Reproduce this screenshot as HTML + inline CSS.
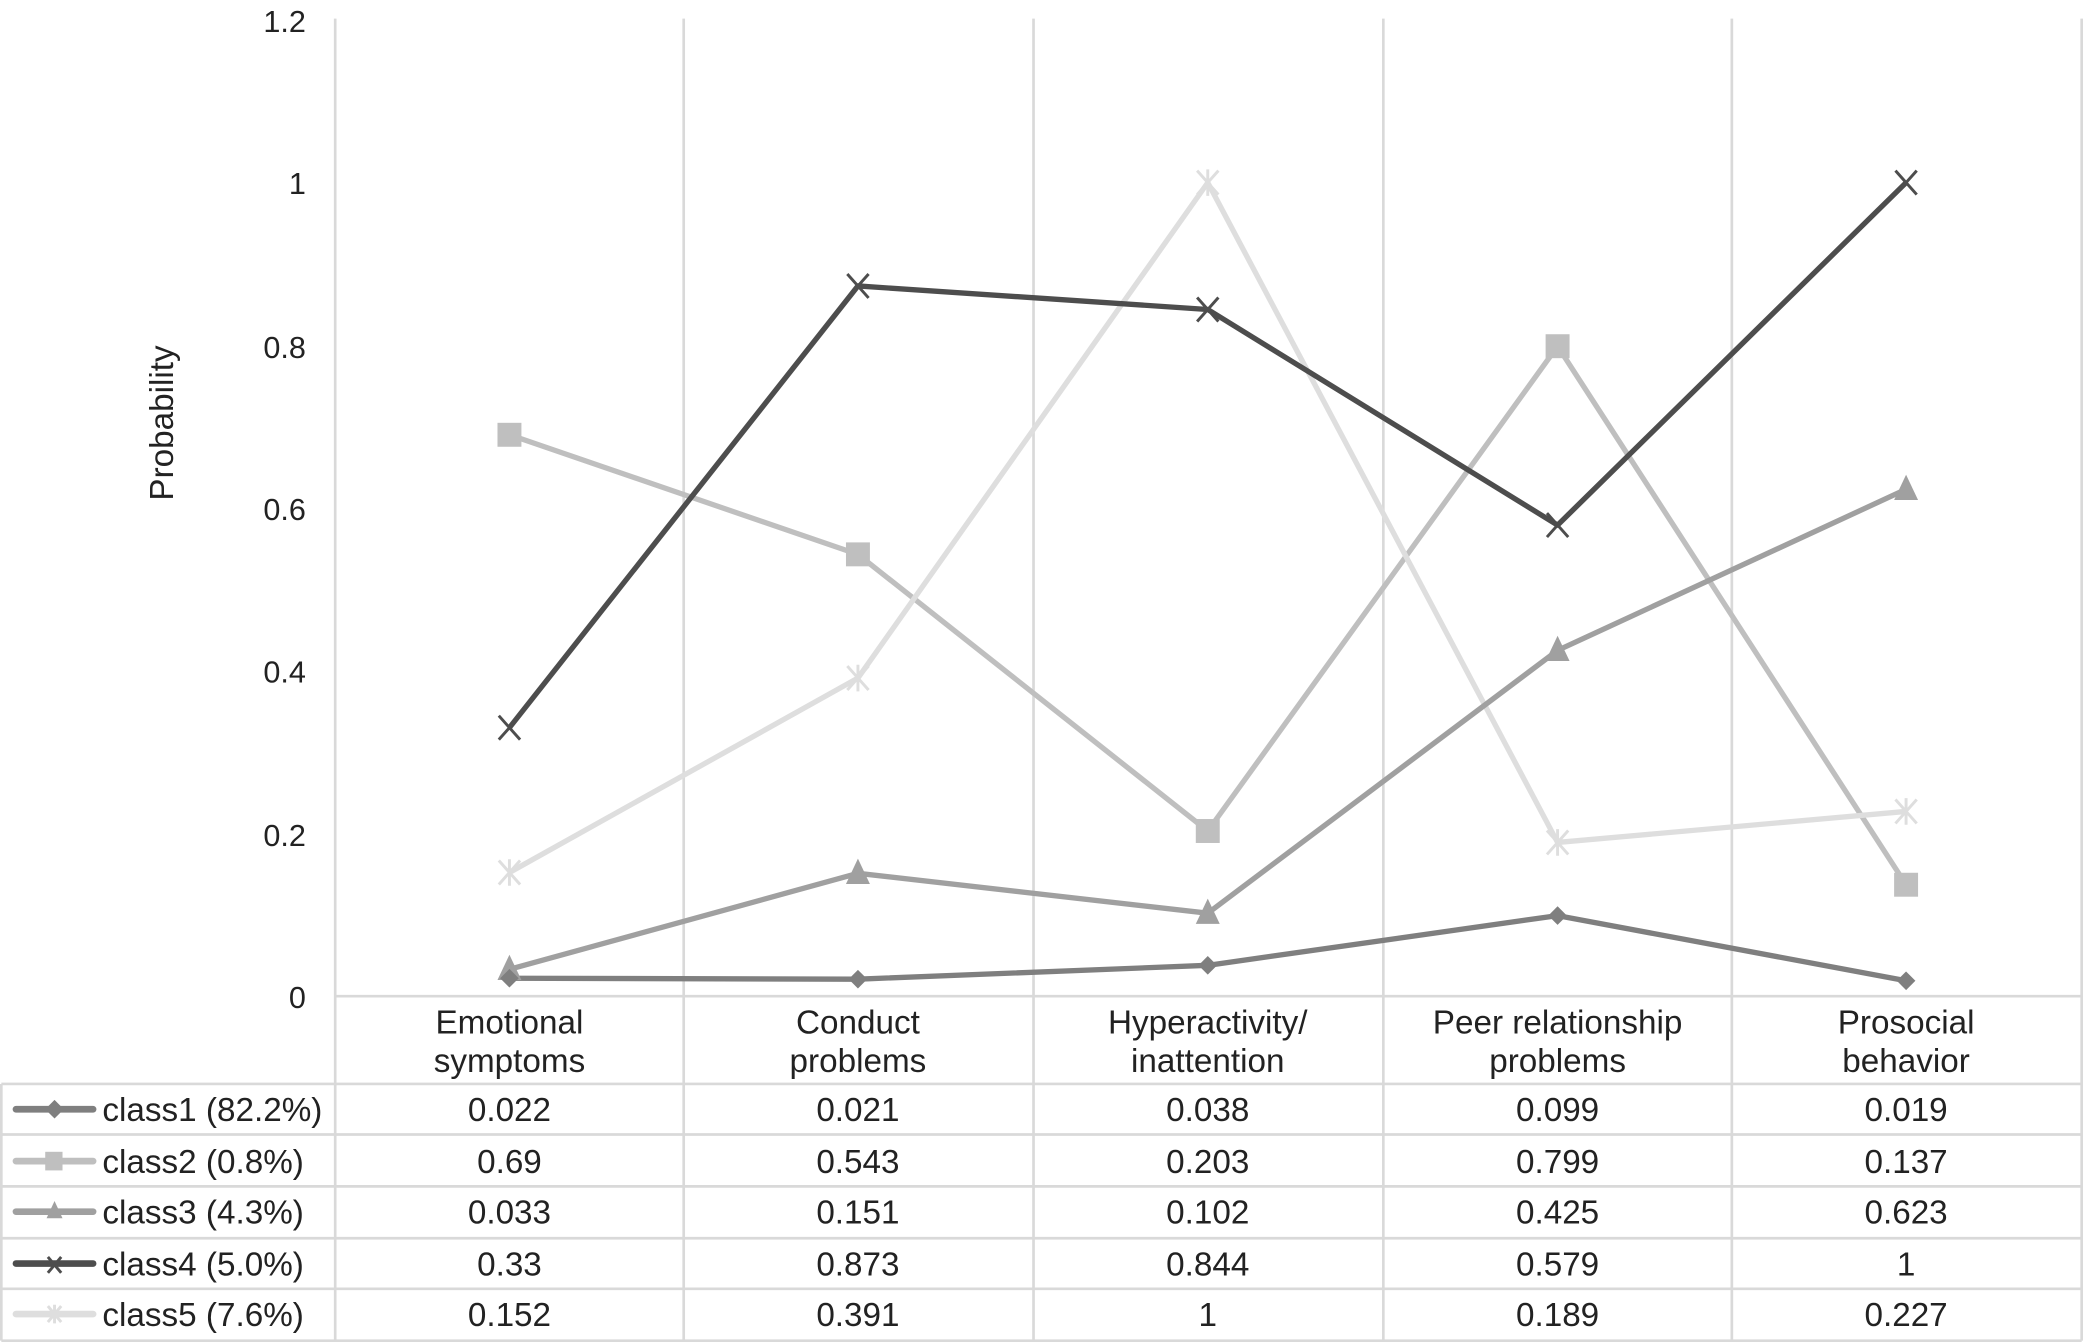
<!DOCTYPE html>
<html><head><meta charset="utf-8"><style>
html,body{margin:0;padding:0;background:#fff;}
svg{display:block;}
text{font-family:"Liberation Sans",Arial,sans-serif;fill:#222;}
</style></head><body>
<svg width="2083" height="1342" viewBox="0 0 1566 1009" preserveAspectRatio="none" xmlns="http://www.w3.org/2000/svg">
<defs>
<g id="dia"><polygon points="0,-7 7,0 0,7 -7,0"/></g>
<g id="sq"><rect x="-9" y="-9" width="18" height="18"/></g>
<g id="tri"><polygon points="0,-11 9,8 -9,8"/></g>
<g id="xx"><path d="M-8,-9 L8,9 M8,-9 L-8,9" stroke-width="2.2" fill="none"/></g>
<g id="st"><path d="M-8,-9 L8,9 M8,-9 L-8,9 M0,-10 L0,10" stroke-width="2.2" fill="none"/></g>
<g id="xs"><path d="M-5,-6 L5,6 M5,-6 L-5,6" stroke-width="2.2" fill="none"/></g>
<g id="ss"><path d="M-5,-6 L5,6 M5,-6 L-5,6 M0,-7 L0,7" stroke-width="2.2" fill="none"/></g>
</defs>
<g stroke="#d9d9d9" stroke-width="2" fill="none">
<line x1="252" y1="14" x2="252" y2="1008"/>
<line x1="514" y1="14" x2="514" y2="1008"/>
<line x1="777" y1="14" x2="777" y2="1008"/>
<line x1="1040" y1="14" x2="1040" y2="1008"/>
<line x1="1302" y1="14" x2="1302" y2="1008"/>
<line x1="1565" y1="14" x2="1565" y2="1008"/>
<line x1="252" y1="749" x2="1565" y2="749"/>
<line x1="1" y1="815" x2="1565" y2="815"/>
<line x1="1" y1="853" x2="1565" y2="853"/>
<line x1="1" y1="892" x2="1565" y2="892"/>
<line x1="1" y1="931" x2="1565" y2="931"/>
<line x1="1" y1="969" x2="1565" y2="969"/>
<line x1="1" y1="1008" x2="1565" y2="1008"/>
<line x1="1" y1="815" x2="1" y2="1008"/>
</g>
<g font-size="23" text-anchor="end">
<text x="230" y="24">1.2</text>
<text x="230" y="146">1</text>
<text x="230" y="269">0.8</text>
<text x="230" y="391">0.6</text>
<text x="230" y="513">0.4</text>
<text x="230" y="636">0.2</text>
<text x="230" y="758">0</text>
</g>
<text font-size="25" transform="translate(130,318) rotate(-90)" text-anchor="middle">Probability</text>
<g font-size="25" text-anchor="middle">
<text x="383" y="777">Emotional</text><text x="383" y="806">symptoms</text>
<text x="645" y="777">Conduct</text><text x="645" y="806">problems</text>
<text x="908" y="777">Hyperactivity/</text><text x="908" y="806">inattention</text>
<text x="1171" y="777">Peer relationship</text><text x="1171" y="806">problems</text>
<text x="1433" y="777">Prosocial</text><text x="1433" y="806">behavior</text>
</g>
<g fill="none" stroke-width="4" stroke-linejoin="round">
<polyline stroke="#bfbfbf" points="383,326.9 645,416.8 908,624.8 1171,260.3 1433,665.2"/>
<polyline stroke="#dedede" points="383,656 645,509.8 908,137.3 1171,633.4 1433,610.1"/>
<polyline stroke="#a0a0a0" points="383,728.8 645,656.6 908,686.6 1171,489 1433,367.9"/>
<polyline stroke="#7f7f7f" points="383,735.5 645,736.2 908,725.8 1171,688.4 1433,737.4"/>
<polyline stroke="#4d4d4d" points="383,547.1 645,215 908,232.7 1171,394.8 1433,137.3"/>
</g>
<g fill="#bfbfbf"><use href="#sq" x="383" y="326.9"/><use href="#sq" x="645" y="416.8"/><use href="#sq" x="908" y="624.8"/><use href="#sq" x="1171" y="260.3"/><use href="#sq" x="1433" y="665.2"/></g>
<g stroke="#dedede"><use href="#st" x="383" y="656"/><use href="#st" x="645" y="509.8"/><use href="#st" x="908" y="137.3"/><use href="#st" x="1171" y="633.4"/><use href="#st" x="1433" y="610.1"/></g>
<g fill="#a0a0a0"><use href="#tri" x="383" y="728.8"/><use href="#tri" x="645" y="656.6"/><use href="#tri" x="908" y="686.6"/><use href="#tri" x="1171" y="489"/><use href="#tri" x="1433" y="367.9"/></g>
<g fill="#7f7f7f"><use href="#dia" x="383" y="735.5"/><use href="#dia" x="645" y="736.2"/><use href="#dia" x="908" y="725.8"/><use href="#dia" x="1171" y="688.4"/><use href="#dia" x="1433" y="737.4"/></g>
<g stroke="#4d4d4d"><use href="#xx" x="383" y="547.1"/><use href="#xx" x="645" y="215"/><use href="#xx" x="908" y="232.7"/><use href="#xx" x="1171" y="394.8"/><use href="#xx" x="1433" y="137.3"/></g>
<g stroke-width="5" stroke-linecap="round">
<line x1="12" y1="834" x2="70" y2="834" stroke="#7f7f7f"/>
<line x1="12" y1="873" x2="70" y2="873" stroke="#bfbfbf"/>
<line x1="12" y1="911" x2="70" y2="911" stroke="#a0a0a0"/>
<line x1="12" y1="950" x2="70" y2="950" stroke="#4d4d4d"/>
<line x1="12" y1="988" x2="70" y2="988" stroke="#dedede"/>
</g>
<use href="#dia" x="41" y="834" fill="#7f7f7f"/>
<rect x="34" y="866" width="13" height="14" fill="#bfbfbf"/>
<polygon points="41,903 47,916 35,916" fill="#a0a0a0"/>
<use href="#xs" x="41" y="951" stroke="#4d4d4d"/>
<use href="#ss" x="41" y="988" stroke="#dedede"/>
<g font-size="25">
<text x="77" y="843">class1 (82.2%)</text>
<text x="77" y="882">class2 (0.8%)</text>
<text x="77" y="920">class3 (4.3%)</text>
<text x="77" y="959">class4 (5.0%)</text>
<text x="77" y="997">class5 (7.6%)</text>
</g>
<g font-size="25" text-anchor="middle">
<text x="383" y="843">0.022</text><text x="645" y="843">0.021</text><text x="908" y="843">0.038</text><text x="1171" y="843">0.099</text><text x="1433" y="843">0.019</text>
<text x="383" y="882">0.69</text><text x="645" y="882">0.543</text><text x="908" y="882">0.203</text><text x="1171" y="882">0.799</text><text x="1433" y="882">0.137</text>
<text x="383" y="920">0.033</text><text x="645" y="920">0.151</text><text x="908" y="920">0.102</text><text x="1171" y="920">0.425</text><text x="1433" y="920">0.623</text>
<text x="383" y="959">0.33</text><text x="645" y="959">0.873</text><text x="908" y="959">0.844</text><text x="1171" y="959">0.579</text><text x="1433" y="959">1</text>
<text x="383" y="997">0.152</text><text x="645" y="997">0.391</text><text x="908" y="997">1</text><text x="1171" y="997">0.189</text><text x="1433" y="997">0.227</text>
</g>
</svg>
</body></html>
